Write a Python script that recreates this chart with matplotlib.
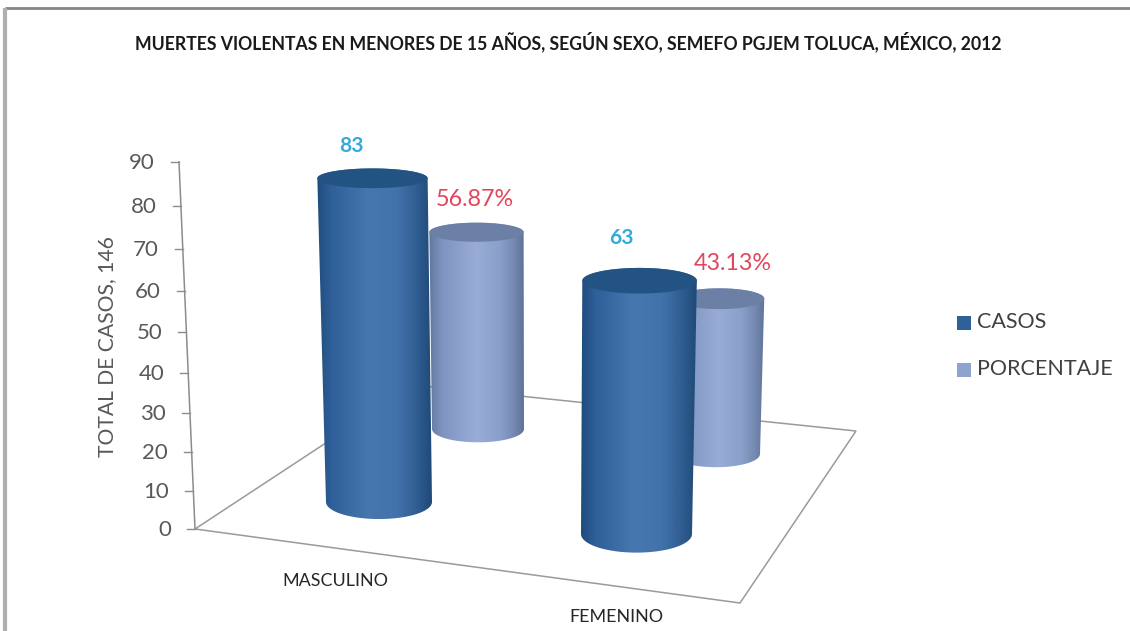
import matplotlib

matplotlib.use("Agg")
import matplotlib.pyplot as plt
import numpy as np
from matplotlib.colors import LinearSegmentedColormap
from matplotlib.patches import Polygon, Rectangle

# data
categories = ["MASCULINO", "FEMENINO"]
casos = [83, 63]
porcentaje = [56.87, 43.13]
porcentaje_labels = ["56.87%", "43.13%"]
series_names = ["CASOS", "PORCENTAJE"]
y_ticks = [0, 10, 20, 30, 40, 50, 60, 70, 80, 90]

TITLE = "MUERTES VIOLENTAS EN MENORES DE 15 AÑOS, SEGÚN SEXO, SEMEFO PGJEM TOLUCA, MÉXICO, 2012"
YLABEL = "TOTAL DE CASOS, 146"

W, H = 1130, 631
plt.rcParams["font.family"] = ["Lato", "DejaVu Sans"]

# scene layout in pixels: base centre, half width, pixels per unit of value
casos_base = [(379, 502), (636.5, 534)]
casos_halfw = [53, 55.5]
casos_unit = [3.90, 4.02]
pct_base = [(478, 429), (716, 454)]
pct_halfw = [46, 44]
pct_unit = [3.46, 3.60]
VANISH = (540, 8500)

dark_cmap = LinearSegmentedColormap.from_list(
    "casos", [(0, "#1f4c7e"), (0.12, "#2f5f98"), (0.45, "#4777af"), (0.7, "#4272aa"),
              (0.88, "#2f5c90"), (1, "#1f4a78")])
light_cmap = LinearSegmentedColormap.from_list(
    "pct", [(0, "#64789e"), (0.15, "#8095c2"), (0.5, "#98acd6"), (0.75, "#8a9fca"),
            (0.9, "#7488b0"), (1, "#5f7296")])


def ellipse_ratio(y):
    return (y + 227) * 0.000441


def cylinder(ax, base, halfw, unit, value, cmap, top_color, z):
    bx, by = base
    h = value * unit
    depth = VANISH[1] - by
    tx = bx + (bx - VANISH[0]) * h / depth
    ty = by - h
    tw = halfw * (1 + h / depth)
    b_semi = halfw * ellipse_ratio(by)
    t_semi = tw * ellipse_ratio(ty)
    th = np.linspace(0, np.pi, 60)
    # body outline: down the left side, round the front of the base, up the right side
    bot = np.c_[bx - halfw * np.cos(th), by + b_semi * np.sin(th)]
    top = np.c_[tx + tw * np.cos(th), ty - t_semi * np.sin(th)]
    outline = np.r_[bot, top, bot[:1]]
    clip = Polygon(outline, closed=True, transform=ax.transData, fc="none", ec="none")
    ax.add_patch(clip)
    left, right = outline[:, 0].min(), outline[:, 0].max()
    grad = np.linspace(0, 1, 256).reshape(1, -1)
    im = ax.imshow(grad, cmap=cmap, extent=(left, right, by + b_semi + 1, ty - t_semi - 1),
                   aspect="auto", zorder=z, interpolation="bilinear")
    im.set_clip_path(clip)
    a = np.linspace(0, 2 * np.pi, 120)
    cap = np.c_[tx + tw * np.cos(a), ty + t_semi * np.sin(a)]
    ax.add_patch(Polygon(cap, closed=True, fc=top_color, ec="none", zorder=z + 0.1))
    return tx, ty, t_semi


def tick_height(v):
    # the value axis is foreshortened a little towards the bottom
    return 3.768 * v / (1 - 0.00085 * v)


def axis_point(v):
    h = tick_height(v)
    return 195 - 16 * h / 367, 529 - h


fig = plt.figure(figsize=(W / 100, H / 100), dpi=100)
ax = fig.add_axes([0, 0, 1, 1])

# floor
floor = [(195, 529), (740, 603), (856, 431), (414, 385)]
ax.add_patch(Polygon(floor, closed=True, fc="white", ec="#9a9a9a", lw=1.1, zorder=1))

# value axis
ax.plot(*zip(axis_point(0), axis_point(90)), color="#8c8c8c", lw=1.1, zorder=1)
for v in y_ticks:
    x, y = axis_point(v)
    ax.plot([x - 8, x], [y, y], color="#8c8c8c", lw=1.0, zorder=1)
    ax.text(x - 24, y + 1, str(v), ha="right", va="center", fontsize=16, color="#595959")

ax.text(107, 347, YLABEL, rotation=90, ha="center", va="center", fontsize=15.2, color="#595959")

# back row first, then the front row hides it
for base, hw, unit, val, lab, (dx, dy) in zip(
        pct_base, pct_halfw, pct_unit, porcentaje, porcentaje_labels, [(-2, -33), (13, -35)]):
    tx, ty, _ = cylinder(ax, base, hw, unit, val, light_cmap, "#6c80a6", 3)
    ax.text(tx + dx, ty + dy, lab, ha="center", va="center", fontsize=16.8, color="#e2455c", zorder=8)

for base, hw, unit, val, (dx, dy) in zip(casos_base, casos_halfw, casos_unit, casos, [(-21, -32), (-18, -43)]):
    tx, ty, _ = cylinder(ax, base, hw, unit, val, dark_cmap, "#235383", 5)
    ax.text(tx + dx, ty + dy, str(val), ha="center", va="center", fontsize=15,
            fontweight="bold", color="#35a9d8", zorder=8)

# category labels
for name, (x, y) in zip(categories, [(335, 581), (616, 617)]):
    ax.text(x, y, name, ha="center", va="center", fontsize=12.9, color="#262626")

# legend
for name, col, y in zip(series_names, ["#2f6198", "#8ea3cd"], [323, 370]):
    ax.add_patch(Rectangle((957, y - 7), 14, 14, fc=col, ec="none"))
    ax.text(977, y - 1, name, ha="left", va="center", fontsize=15.5, color="#404040")

ax.text(568, 42, TITLE, ha="center", va="center", fontsize=12.7, fontweight="bold", color="#1a1a1a")

# frame: only top and left edges show
ax.plot([5, W], [8, 8], color="#858585", lw=2, solid_capstyle="butt")
ax.plot([5, 5], [8, H], color="#b0b0b0", lw=3, solid_capstyle="butt")

ax.set_xlim(0, W)
ax.set_ylim(H, 0)
ax.axis("off")
fig.savefig("out.png", dpi=100)
